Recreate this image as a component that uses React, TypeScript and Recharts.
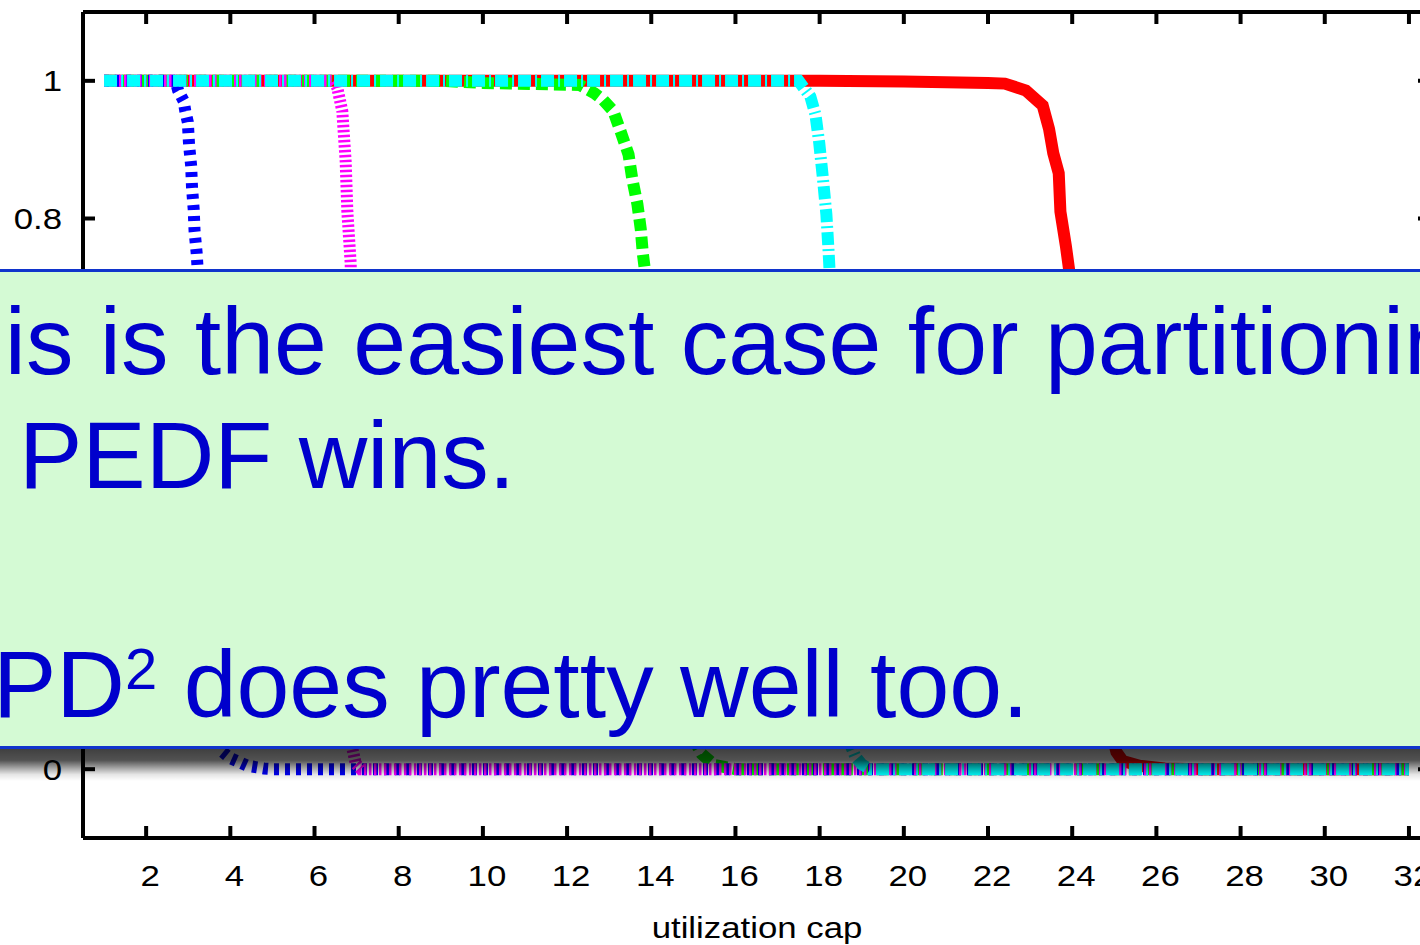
import { LineChart, Line, XAxis, YAxis } from "recharts";

const FONT = '"Liberation Sans", Arial, Helvetica, sans-serif';

const xTicks = [2, 4, 6, 8, 10, 12, 14, 16, 18, 20, 22, 24, 26, 28, 30, 32];
const yTicks = [0, 0.2, 0.4, 0.6, 0.8, 1];

// [utilization cap, fraction schedulable]
const redPts = [
  [1, 1], [18, 1], [20, 0.999], [22, 0.997], [22.4, 0.996], [22.9, 0.986],
  [23.3, 0.964], [23.45, 0.93], [23.55, 0.895], [23.68, 0.866], [23.72, 0.81],
  [23.85, 0.76], [23.95, 0.715], [24.1, 0.64], [24.3, 0.5], [24.5, 0.33],
  [24.7, 0.16], [24.9, 0.06], [25.05, 0.025], [25.2, 0.012], [25.6, 0.005],
  [26.2, 0.001], [27, 0], [32, 0],
];

const greenPts = [
  [1, 1], [9, 1], [10, 0.997], [12.3, 0.994], [12.65, 0.982], [12.86, 0.972],
  [13.1, 0.956], [13.28, 0.925], [13.46, 0.893], [13.55, 0.857], [13.67, 0.821],
  [13.75, 0.785], [13.8, 0.749], [13.88, 0.71], [14, 0.64], [14.2, 0.5],
  [14.4, 0.35], [14.6, 0.2], [14.8, 0.1], [15, 0.045], [15.2, 0.022],
  [15.5, 0.006], [16, 0], [32, 0],
];

const bluePts = [
  [1, 1], [2.7, 1], [2.76, 0.986], [2.89, 0.971], [2.93, 0.956], [2.99, 0.94],
  [3.02, 0.907], [3.07, 0.876], [3.09, 0.845], [3.13, 0.813], [3.15, 0.782],
  [3.2, 0.75], [3.22, 0.73], [3.3, 0.6], [3.4, 0.42], [3.5, 0.25], [3.6, 0.11],
  [3.72, 0.03], [4, 0.016], [4.4, 0.005], [4.8, 0.001], [5, 0], [32, 0],
];

const magentaPts = [
  [1, 1], [6.45, 1], [6.54, 0.99], [6.66, 0.956], [6.74, 0.883], [6.78, 0.81],
  [6.86, 0.734], [6.87, 0.4], [6.88, 0.1], [6.9, 0.03], [6.98, 0.008],
  [7.1, 0], [32, 0],
];

const cyanPts = [
  [1, 1], [17.5, 1], [17.62, 0.99], [17.78, 0.977], [17.9, 0.951], [17.99, 0.91],
  [18.08, 0.857], [18.16, 0.806], [18.21, 0.755], [18.25, 0.708], [18.3, 0.62],
  [18.4, 0.45], [18.5, 0.27], [18.6, 0.12], [18.7, 0.04], [18.85, 0.018],
  [19, 0.007], [19.2, 0], [32, 0],
];

const rows = (pts: number[][]) => pts.map(([u, v]) => ({ u, v }));

const axisStroke = { stroke: "#000", strokeWidth: 4 };
const STRETCH = 1.16; // the original labels are a bit wider than Liberation Sans

function XTick(props: any) {
  const { x, y, payload } = props;
  return (
    <g transform={`translate(${x + 4},${y})`}>
      <text transform={`scale(${STRETCH},1)`} textAnchor="middle" dy="0.71em"
        fill="#000" fontSize={30} fontFamily={FONT}>
        {payload.value}
      </text>
    </g>
  );
}

function YTick(props: any) {
  const { x, y, payload } = props;
  return (
    <g transform={`translate(${x},${y})`}>
      <text transform={`scale(${STRETCH},1)`} textAnchor="end" dy="0.355em"
        fill="#000" fontSize={30} fontFamily={FONT}>
        {String(Math.round(payload.value * 10) / 10)}
      </text>
    </g>
  );
}

export default function App() {
  return (
    <div
      style={{
        position: "absolute",
        left: 0,
        top: 0,
        width: 1420,
        height: 945,
        overflow: "hidden",
        background: "#fff",
      }}
    >
      <LineChart width={1440} height={945} margin={{ top: 0, right: 0, bottom: 0, left: 0 }}>
        <XAxis
          dataKey="u"
          type="number"
          domain={[0.5, 32.5]}
          ticks={xTicks}
          allowDataOverflow
          height={107}
          tickSize={-12}
          tickMargin={39}
          axisLine={axisStroke}
          tickLine={axisStroke}
          tick={XTick}
        />
        <XAxis
          xAxisId="top"
          orientation="top"
          dataKey="u"
          type="number"
          domain={[0.5, 32.5]}
          ticks={xTicks}
          allowDataOverflow
          height={12}
          tickSize={-12}
          axisLine={axisStroke}
          tickLine={axisStroke}
          tickFormatter={() => ""}
        />
        <YAxis
          type="number"
          domain={[-0.1, 1.1]}
          ticks={yTicks}
          allowDataOverflow
          width={83}
          tickSize={-12}
          tickMargin={33}
          axisLine={axisStroke}
          tickLine={axisStroke}
          tick={YTick}
        />
        <YAxis
          yAxisId="right"
          orientation="right"
          type="number"
          domain={[-0.1, 1.1]}
          ticks={yTicks}
          allowDataOverflow
          width={10}
          tickSize={-12}
          axisLine={axisStroke}
          tickLine={axisStroke}
          tickFormatter={() => ""}
        />

        <Line data={rows(redPts)} dataKey="v" type="linear" stroke="#ff0000"
          strokeWidth={12} dot={false} isAnimationActive={false} />
        <Line data={rows(greenPts)} dataKey="v" type="linear" stroke="#00ff00"
          strokeWidth={12} strokeDasharray="12 6" dot={false} isAnimationActive={false} />
        <Line data={rows(bluePts)} dataKey="v" type="linear" stroke="#0000ff"
          strokeWidth={12} strokeDasharray="5 6" dot={false} isAnimationActive={false} />
        <Line data={rows(magentaPts)} dataKey="v" type="linear" stroke="#ff00ff"
          strokeWidth={12} strokeDasharray="2.5 2.5" dot={false} isAnimationActive={false} />
        <Line data={rows(cyanPts)} dataKey="v" type="linear" stroke="#00ffff"
          strokeWidth={12} strokeDasharray="13 4 2 4" dot={false} isAnimationActive={false} />
      </LineChart>

      {/* axis title and the slide callout laid over the plot */}
      <svg
        width={1420}
        height={945}
        style={{ position: "absolute", left: 0, top: 0, pointerEvents: "none" }}
      >
        <defs>
          <linearGradient id="shade" x1="0" y1="0" x2="0" y2="1">
            <stop offset="0" stopColor="#000" stopOpacity={0.75} />
            <stop offset="0.35" stopColor="#000" stopOpacity={0.68} />
            <stop offset="0.6" stopColor="#000" stopOpacity={0.35} />
            <stop offset="0.8" stopColor="#000" stopOpacity={0.1} />
            <stop offset="1" stopColor="#000" stopOpacity={0} />
          </linearGradient>
        </defs>
        <g transform="translate(757,938)">
          <text transform={`scale(${STRETCH},1)`} textAnchor="middle" fill="#000"
            fontSize={30} fontFamily={FONT}>
            utilization cap
          </text>
        </g>
        <rect x={-10} y={749} width={1440} height={32} fill="url(#shade)" />
        <rect x={-10} y={270.5} width={1440} height={477} fill="#d4fad4"
          stroke="#1034cc" strokeWidth={3} />
        <g fill="#0000cc" fontSize={95} fontFamily={FONT}>
          <text x={-106} y={374}>This is the easiest case for partitioning.</text>
          <text x={19} y={488}>PEDF wins.</text>
          <text x={-7} y={717}>
            PD<tspan fontSize={58} dy={-28}>2</tspan>
            <tspan dy={28}> does pretty well too.</tspan>
          </text>
        </g>
      </svg>
    </div>
  );
}
